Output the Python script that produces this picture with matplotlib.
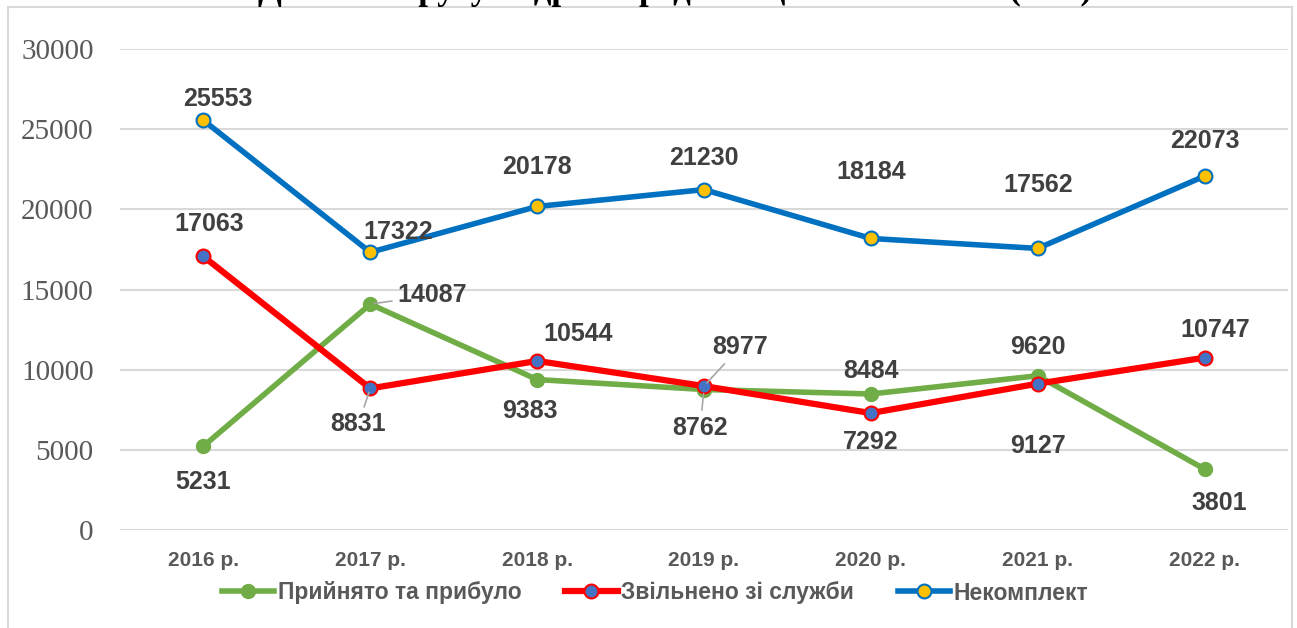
import matplotlib
matplotlib.use("Agg")
import matplotlib.pyplot as plt
from matplotlib.lines import Line2D
from matplotlib.patches import Rectangle

years = ["2016 р.", "2017 р.", "2018 р.", "2019 р.", "2020 р.", "2021 р.", "2022 р."]
prybulo = [5231, 14087, 9383, 8762, 8484, 9620, 3801]
zvilneno = [17063, 8831, 10544, 8977, 7292, 9127, 10747]
nekomplekt = [25553, 17322, 20178, 21230, 18184, 17562, 22073]
series_names = ["Прийнято та прибуло", "Звільнено зі служби", "Некомплект"]
title = "Динаміка руху кадрів серед поліцейських НПУ (осіб)"

# label offsets in pixels (dx, dy) and whether a leader line is drawn
off_green = [(0, -36), (62, 9), (-7, -31), (-4, -38), (0, 23), (0, 29), (15, -34)]
lead_green = [False, True, False, True, False, False, False]
off_red = [(6, 32), (-12, -36), (41, 27), (36, 39), (0, -29), (0, -62), (11, 28)]
lead_red = [False, True, False, True, False, False, False]
off_blue = [(14, 21), (28, 20), (0, 39), (0, 32), (0, 66), (0, 63), (0, 35)]
lead_blue = [False] * 7

GREEN = "#70AD47"
RED = "#FF0000"
BLUE = "#0070C0"
MK_BLUE = "#4472C4"
MK_YEL = "#FFC000"
LBL = "#404040"

fig = plt.figure(figsize=(12.97, 6.28), dpi=100)
ax = fig.add_axes([120 / 1297, 1 - 530 / 628, (1288 - 120) / 1297, (530 - 49) / 628])

x = list(range(len(years)))
ax.plot(x, prybulo, color=GREEN, lw=4.0, marker="o", ms=10, mfc=GREEN, mec=GREEN, zorder=3,
        solid_capstyle="round")
ax.plot(x, zvilneno, color=RED, lw=4.5, marker="o", ms=10, mfc=MK_BLUE, mec=RED, mew=1.5, zorder=4,
        solid_capstyle="round")
ax.plot(x, nekomplekt, color=BLUE, lw=4.0, marker="o", ms=10, mfc=MK_YEL, mec=BLUE, mew=1.5, zorder=5,
        solid_capstyle="round")

lblfont = dict(fontsize=18, fontweight="bold", color=LBL, family="Liberation Sans")
for vals, offs, leads in [(prybulo, off_green, lead_green), (zvilneno, off_red, lead_red),
                          (nekomplekt, off_blue, lead_blue)]:
    for i, v in enumerate(vals):
        kw = {}
        if leads[i]:
            kw["arrowprops"] = dict(arrowstyle="-", color="#A6A6A6", lw=1.2, shrinkA=2, shrinkB=3)
        ax.annotate(f"{v}", (i, v), xytext=offs[i], textcoords="offset pixels",
                    ha="center", va="center", zorder=6, **lblfont, **kw)

ax.set_xlim(-0.5, len(years) - 0.5)
ax.set_ylim(0, 30000)
ax.set_yticks(range(0, 30001, 5000))
ax.set_yticklabels([str(t) for t in range(0, 30001, 5000)], fontsize=21, color="#595959",
                   family="Liberation Serif")
ax.set_xticks(x)
ax.set_xticklabels(years, fontsize=15, fontweight="bold", color="#595959", family="Liberation Sans")
ax.tick_params(axis="both", length=0)
ax.tick_params(axis="y", pad=19)
ax.tick_params(axis="x", pad=15)
ax.grid(axis="y", color="#D9D9D9", lw=1.5)
ax.set_axisbelow(True)
for s in ax.spines.values():
    s.set_visible(False)

handles = [
    Line2D([], [], color=GREEN, lw=4, marker="o", ms=10, mfc=GREEN, mec=GREEN),
    Line2D([], [], color=RED, lw=4.5, marker="o", ms=10, mfc=MK_BLUE, mec=RED, mew=1.5),
    Line2D([], [], color=BLUE, lw=4, marker="o", ms=10, mfc=MK_YEL, mec=BLUE, mew=1.5),
]
leg = fig.legend(handles, series_names, loc="center", bbox_to_anchor=(655 / 1297, 1 - 593 / 628),
                 ncol=3, frameon=False, handlelength=2.3, handletextpad=0.15, columnspacing=1.9,
                 prop=dict(size=16.5, weight="bold", family="Liberation Sans"))
for t in leg.get_texts():
    t.set_color("#595959")

fig.patches.append(Rectangle((8 / 1297, -0.05), (1292 - 8) / 1297, 1.05 - 7 / 628,
                             transform=fig.transFigure, fill=False, ec="#D9D9D9", lw=1.5))
fig.text(675 / 1297, 1 + 1 / 628, title, ha="center", va="baseline", fontsize=25, fontweight="bold",
         family="Liberation Serif", color="black")

fig.savefig("out.png", dpi=100)
